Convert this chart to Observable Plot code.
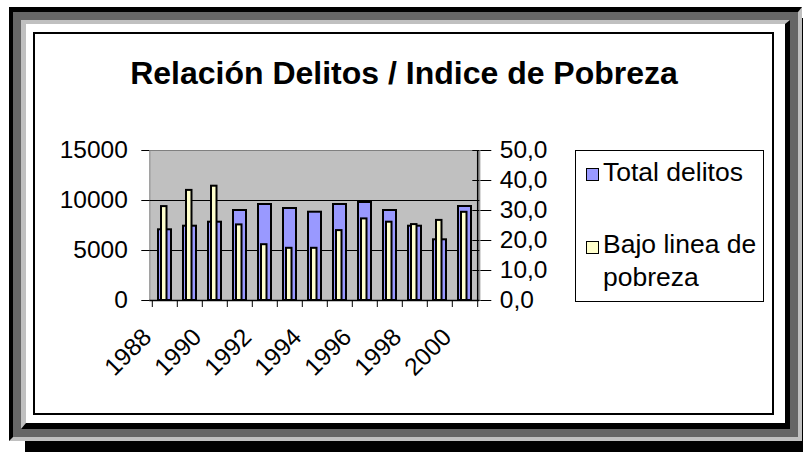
<!DOCTYPE html>
<html>
<head>
<meta charset="utf-8">
<script src="https://cdn.jsdelivr.net/npm/d3@7"></script>
<script src="https://cdn.jsdelivr.net/npm/@observablehq/plot@0.6"></script>
<style>
  html, body { margin: 0; padding: 0; background: #fff; }
  #page { position: relative; width: 803px; height: 452px; overflow: hidden; font-family: "Liberation Sans", Arial, sans-serif; color: #000; }
  .abs { position: absolute; box-sizing: border-box; }
  .txt { position: absolute; white-space: nowrap; font-size: 26.5px; line-height: 26px; }
  .sw { position: absolute; width: 13px; height: 13px; border: 1px solid #000; box-sizing: border-box; }
</style>
</head>
<body>
<div id="page">
  <div class="abs" style="left:25px; top:18px; width:790px; height:440px; background:#000;"></div>
  <div class="abs" style="left:9px; top:7px; width:793px; height:434px; border-style:solid; border-width:5px 4px 4px 4px; border-color:#000 #c0c0c0 #c0c0c0 #000;">
    <div class="abs" style="left:0; top:0; width:100%; height:100%; border:8px solid #666;">
      <div class="abs" style="left:0; top:0; width:100%; height:100%; border-style:solid; border-width:4px 5px 6px 5px; border-color:#c0c0c0 #000 #000 #c0c0c0; background:#fff;"></div>
    </div>
  </div>
  <div class="abs" style="left:33px; top:32px; width:741px; height:383px; border:2px solid #000;"></div>
  <div id="chart" class="abs" style="left:0; top:0;"></div>
  <div class="txt" style="left:34px; width:740px; top:57px; text-align:center; font-weight:bold; font-size:32px; line-height:32px;">Relación Delitos / Indice de Pobreza</div>
  <div class="abs" style="left:575px; top:150px; width:189px; height:152px; border:1px solid #000; background:#fff;"></div>
  <div class="sw" style="left:586px; top:168px; background:#9999FF;"></div>
  <div class="txt" style="left:603px; top:158.5px;">Total delitos</div>
  <div class="sw" style="left:586px; top:241px; background:#FFFFCC;"></div>
  <div class="txt" style="left:603px; top:231px;">Bajo linea de</div>
  <div class="txt" style="left:603px; top:264px;">pobreza</div>
</div>
<script>
const years = [1988, 1989, 1990, 1991, 1992, 1993, 1994, 1995, 1996, 1997, 1998, 1999, 2000];
const totalDelitos = [7070, 7430, 7830, 9000, 9600, 9200, 8830, 9600, 9800, 9000, 7430, 6070, 9400];
const bajoLineaPobreza = [31.3, 36.7, 38.1, 25.2, 18.6, 17.4, 17.4, 23.3, 27.2, 26.1, 25.3, 26.7, 29.4];
const leftTicks = [0, 5000, 10000, 15000];
const rightTicks = [0, 10, 20, 30, 40, 50];
const labelYears = [1988, 1990, 1992, 1994, 1996, 1998, 2000];

const data = years.map((y, i) => ({year: y, delitos: totalDelitos[i], pobreza: bajoLineaPobreza[i]}));
const K = 15000 / 50; // secondary axis (0–50) mapped onto primary (0–15000)

const W = 803, H = 452;
const mL = 149.3, mR = W - 479.3, mT = 150, mB = H - 300;
const bw = (W - mL - mR) / years.length;

const chart = Plot.plot({
  width: W,
  height: H,
  marginLeft: mL,
  marginRight: mR,
  marginTop: mT,
  marginBottom: mB,
  style: {background: "transparent", fontFamily: "'Liberation Sans', Arial, sans-serif", fontSize: "24.5px", color: "#000", overflow: "visible"},
  x: {type: "band", domain: years, padding: 0, axis: null, label: null},
  y: {domain: [0, 15000], axis: null, label: null},
  marks: [
    Plot.frame({fill: "#C0C0C0", stroke: "#808080"}),
    Plot.ruleY(leftTicks.filter(d => d > 0 && d < 15000), {stroke: "#000", strokeWidth: 1}),
    Plot.barY(data, {x: "year", y: "delitos", fill: "#9999FF", stroke: "#000", strokeWidth: 2, insetLeft: 6, insetRight: 6}),
    Plot.barY(data, {x: "year", y: d => d.pobreza * K, fill: "#FFFFCC", stroke: "#000", strokeWidth: 2, insetLeft: 9, insetRight: 10.5}),
    Plot.ruleX([years[years.length - 1]], {dx: bw / 2, stroke: "#000", strokeWidth: 1.5}),
    Plot.ruleY([0], {stroke: "#000", strokeWidth: 1.5}),
    Plot.axisY({anchor: "left", label: null, ticks: leftTicks, tickSize: 8, tickPadding: 14, tickFormat: d => String(d), stroke: "#000"}),
    Plot.axisY({anchor: "right", label: null, ticks: rightTicks.map(d => d * K), tickSize: 11, tickPadding: 9,
      tickFormat: d => (d / K).toFixed(1).replace(".", ","), stroke: "#000"}),
    Plot.ruleY(rightTicks.map(d => d * K), {insetLeft: W - mL - mR - 7, stroke: "#000"}),
    Plot.ruleX(years, {x: d => d, dx: -bw / 2, insetTop: H - mT - mB, insetBottom: -7, stroke: "#000"}),
    Plot.ruleX([years[years.length - 1]], {x: d => d, dx: bw / 2, insetTop: H - mT - mB, insetBottom: -7, stroke: "#000"}),
    Plot.text(labelYears, {x: d => d, text: d => String(d), frameAnchor: "bottom", rotate: -45, textAnchor: "end", lineAnchor: "bottom", dx: -12, dy: 38, fill: "#000"})
  ]
});
document.getElementById("chart").appendChild(chart);
</script>
</body>
</html>
